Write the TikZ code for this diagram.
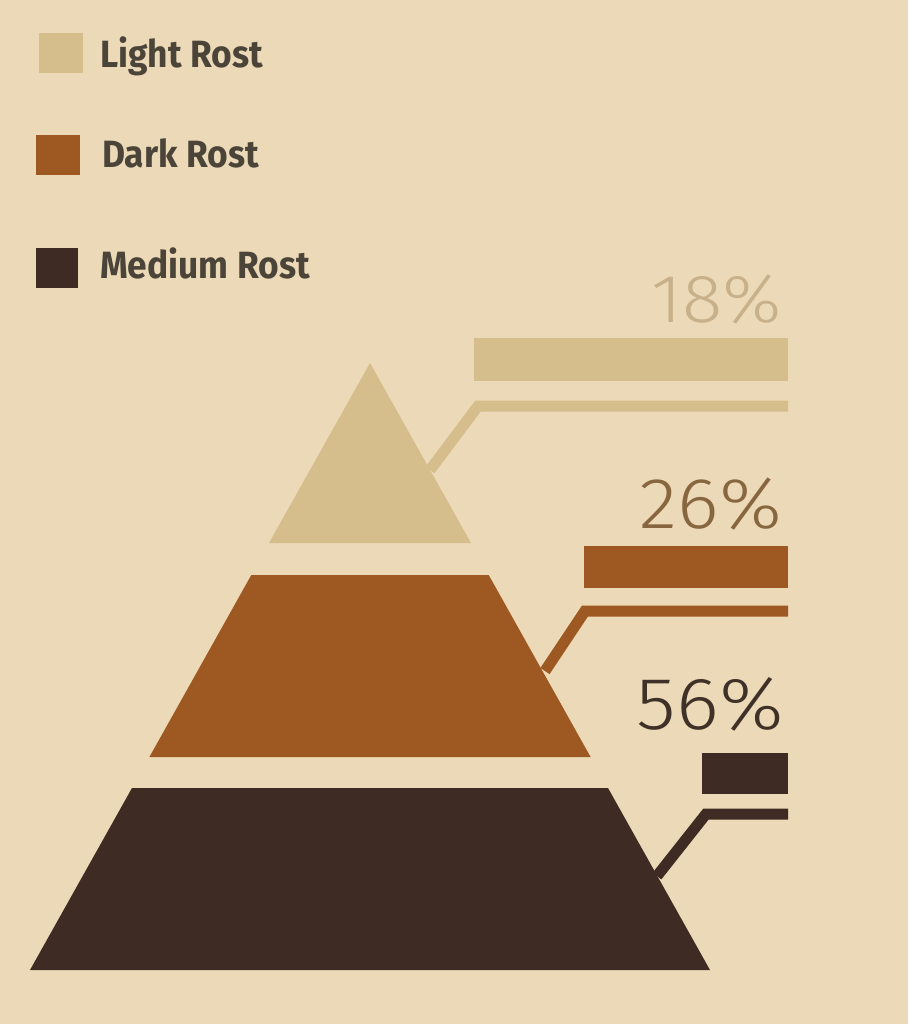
\documentclass[tikz,border=0pt]{standalone}
\usepackage{fontspec}
\setmainfont{Fira Sans}
\newfontfamily\pctfont{Fira Sans Light}
\usetikzlibrary{positioning}

\definecolor{bgcol}{HTML}{ECD9B7}
\definecolor{lightrost}{HTML}{D6BD8C}
\definecolor{darkrost}{HTML}{9E5822}
\definecolor{mediumrost}{HTML}{3E2B23}
\definecolor{legtext}{HTML}{4B4439}
\definecolor{pctlight}{HTML}{C8B08A}
\definecolor{pctdark}{HTML}{876640}
\definecolor{pctmedium}{HTML}{3F3028}

\newcommand{\legnarrow}[1]{\scalebox{0.93}[1]{#1}}
\newcommand{\pctwide}[1]{\scalebox{1.1}[1]{#1}}

\begin{document}
\begin{tikzpicture}[x=1pt,y=-1pt,
    swatch/.style={minimum width=44pt,minimum height=40pt,inner sep=0pt,anchor=north west},
    legend/.style={anchor=base west,inner sep=0pt,text=legtext,
      font=\fontsize{38}{40}\selectfont\bfseries},
    bar/.style={inner sep=0pt,anchor=north west},
    pct/.style={anchor=base east,inner sep=0pt},
    leader/.style={line width=11pt,line join=miter}]
  \fill[bgcol] (0,0) rectangle (908,1024);
  \useasboundingbox (0,0) rectangle (908,1024);

  % legend
  \node[swatch,fill=lightrost] (swL) at (39,33) {};
  \node[swatch,fill=darkrost] (swD) at (36,135) {};
  \node[swatch,fill=mediumrost,minimum width=42pt] (swM) at (36,248) {};
  \node[legend] (labL) at (100,68) {\legnarrow{Light Rost}};
  \node[legend] (labD) at (102,168) {\legnarrow{Dark Rost}};
  \node[legend] (labM) at (100,278) {\legnarrow{Medium Rost}};

  % pyramid
  \fill[lightrost] (370,363) -- (471,543) -- (269,543) -- cycle;
  \fill[darkrost] (251.3,575) -- (488.7,575) -- (590.6,757) -- (149.4,757) -- cycle;
  \fill[mediumrost] (132,788) -- (608,788) -- (710,970) -- (30,970) -- cycle;

  % bars
  \node[bar,fill=lightrost,minimum width=314pt,minimum height=43pt] (bar18) at (474,338) {};
  \node[bar,fill=darkrost,minimum width=204pt,minimum height=42pt] (bar26) at (584,546) {};
  \node[bar,fill=mediumrost,minimum width=86pt,minimum height=41pt] (bar56) at (702,753) {};

  \node[pct,text=pctlight,font=\fontsize{68}{70}\selectfont\pctfont] (p18) at (782,322) {\pctwide{18\%}};
  \node[pct,text=pctdark,font=\fontsize{72}{74}\selectfont\pctfont] (p26) at (782,528) {\pctwide{26\%}};
  \node[pct,text=pctmedium,font=\fontsize{74}{76}\selectfont\pctfont] (p56) at (784,729) {\pctwide{56\%}};

  % leaders
  \coordinate (e18) at (430,470);
  \coordinate (k18) at (478,406);
  \coordinate (r18) at (788,406);
  \coordinate (e26) at (545,671);
  \coordinate (k26) at (585,611);
  \coordinate (r26) at (788,611);
  \coordinate (e56) at (657,876);
  \coordinate (k56) at (706,814);
  \coordinate (r56) at (788,814);
  \draw[leader,lightrost] (e18) -- (k18) -- (r18);
  \draw[leader,darkrost] (e26) -- (k26) -- (r26);
  \draw[leader,mediumrost] (e56) -- (k56) -- (r56);
\end{tikzpicture}
\end{document}
